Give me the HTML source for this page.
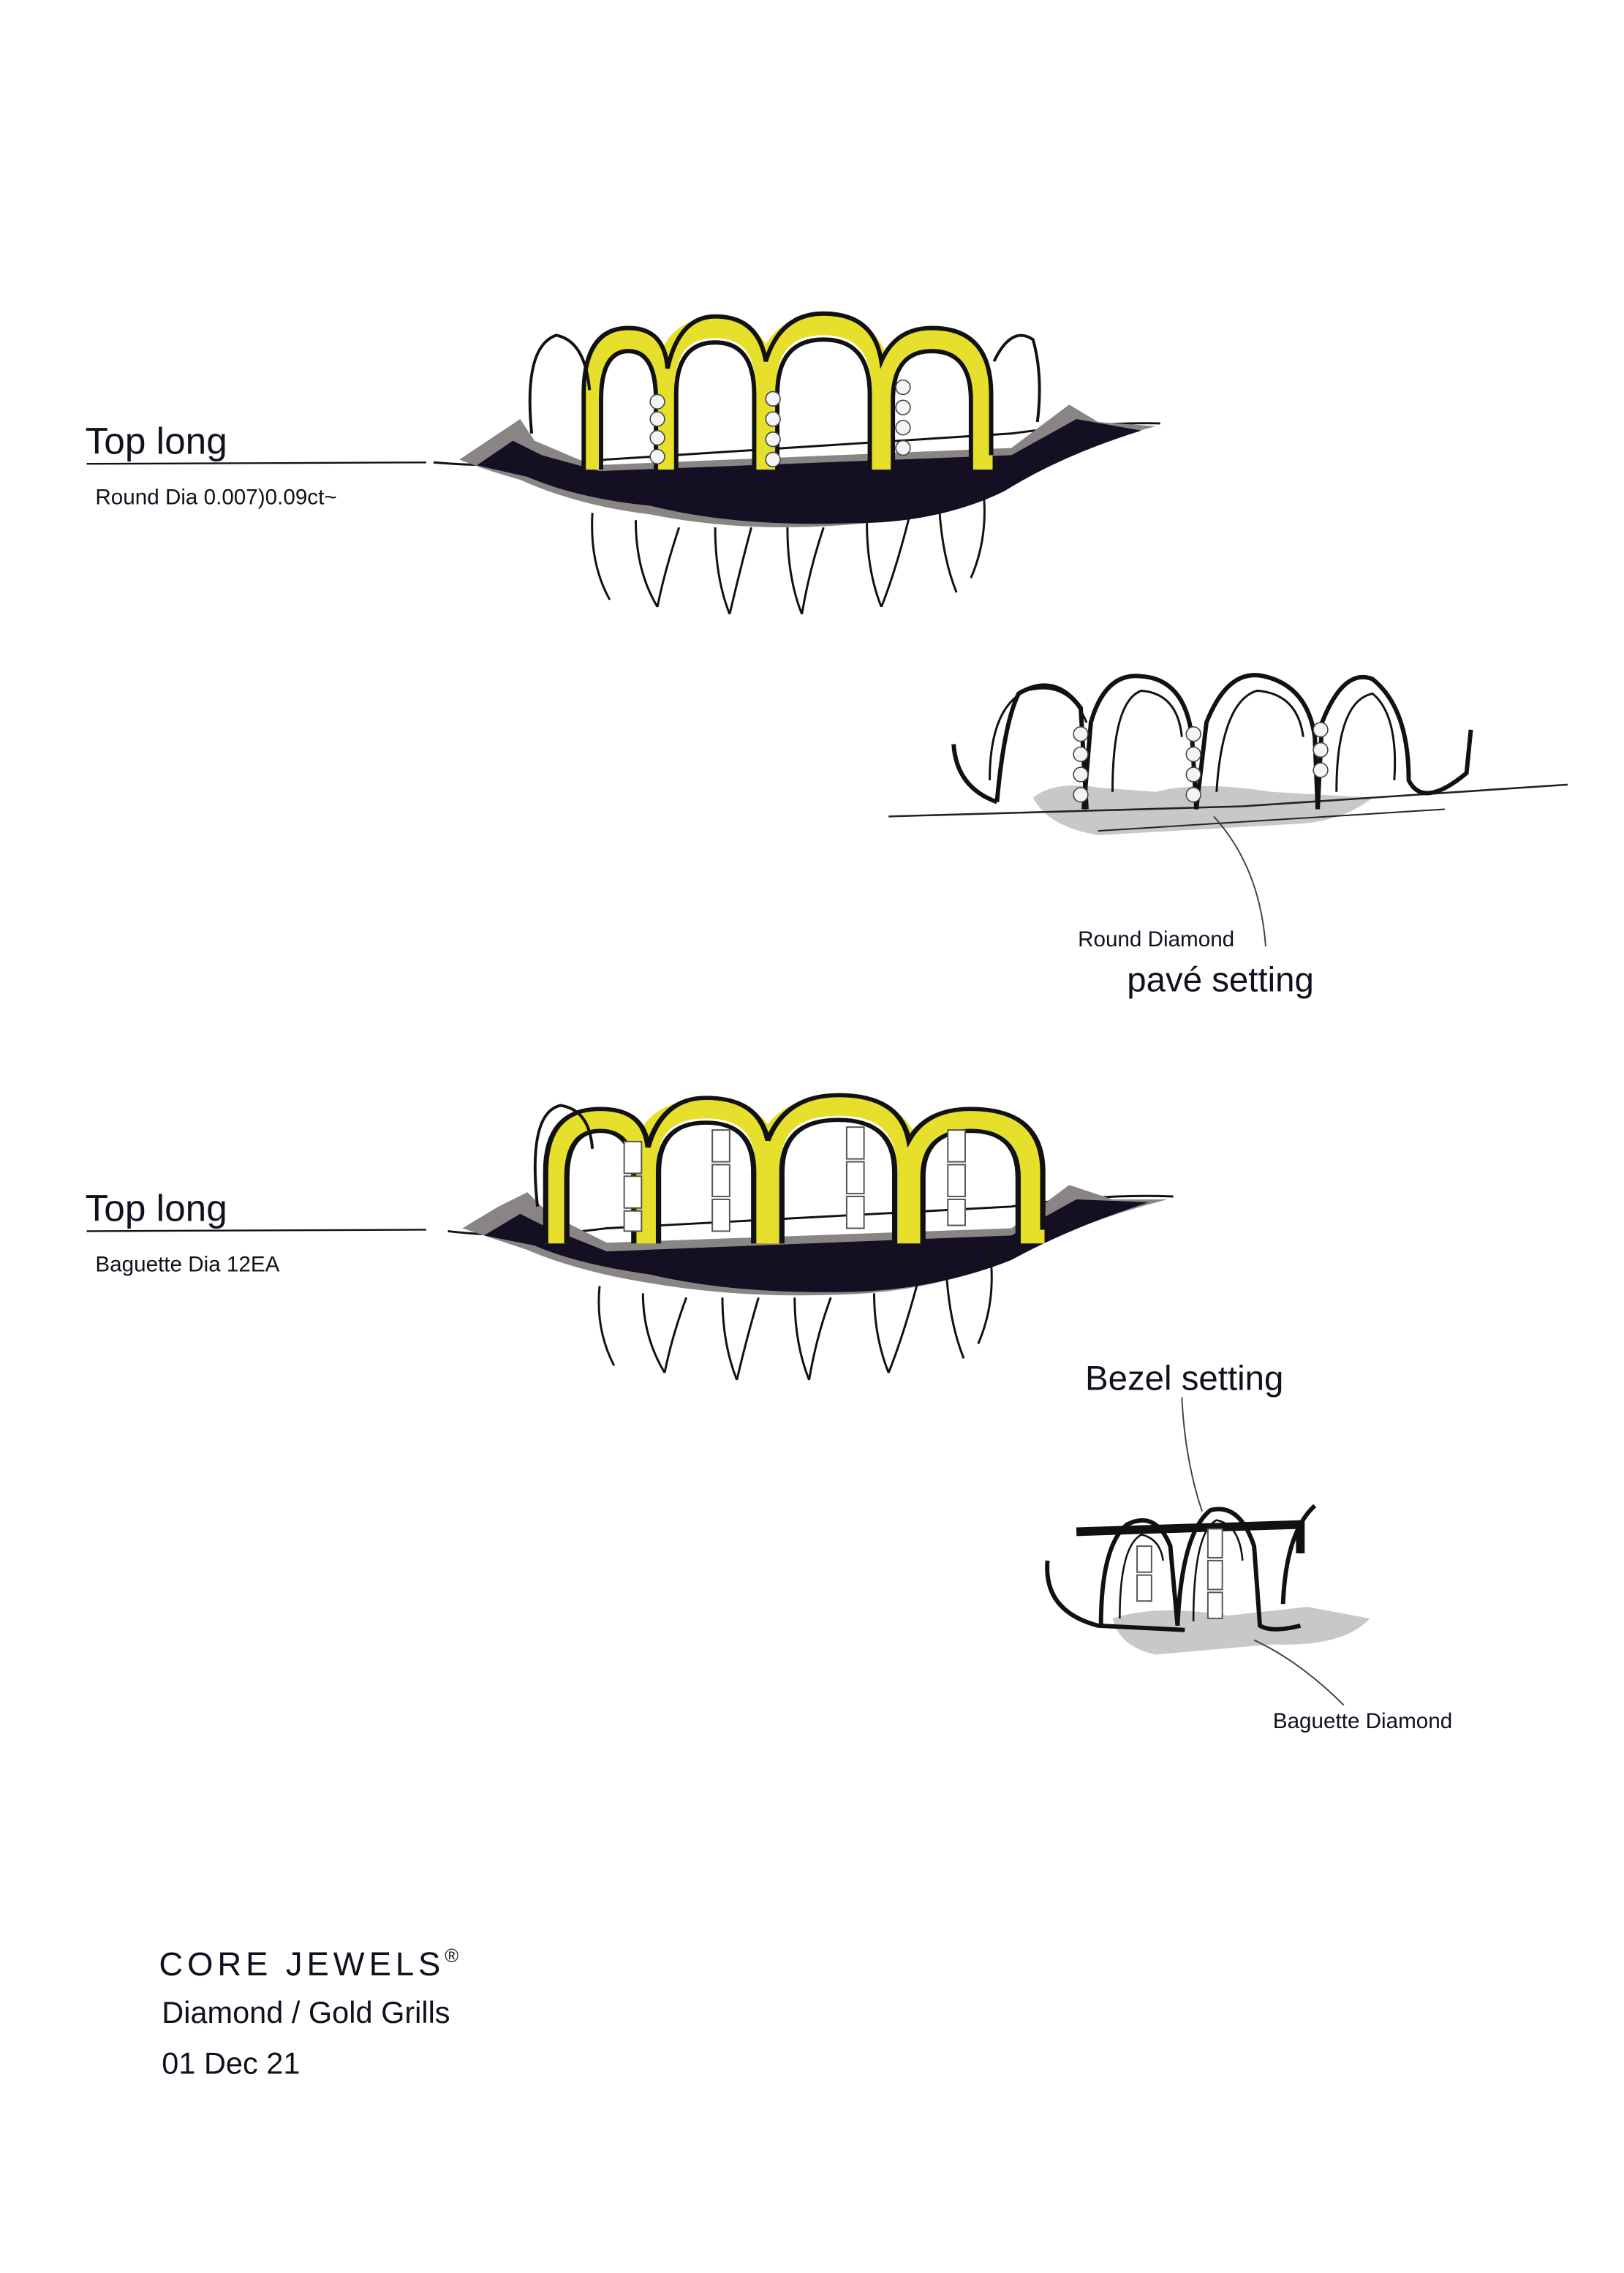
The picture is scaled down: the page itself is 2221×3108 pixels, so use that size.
<!DOCTYPE html>
<html><head><meta charset="utf-8"><style>
html,body{margin:0;padding:0;background:#fff;width:2221px;height:3108px;overflow:hidden}
svg{display:block}
text{font-family:"Liberation Sans",sans-serif;fill:#140f1e}
</style></head><body>
<svg width="2221" height="3108" viewBox="0 0 1124 1573" preserveAspectRatio="none">
<defs>
<g id="arch4">
 <path d="M0 90 L0 40 Q0 0 25 0 Q50 0 50 40 L50 90 M50 90 L50 35 Q50 -8 85 -8 Q120 -8 120 35 L120 90 M120 90 L120 35 Q120 -10 160 -10 Q200 -10 200 35 L200 90 M200 90 L200 40 Q200 0 235 0 Q270 0 270 40 L270 90" fill="none" stroke="#e6e02c" stroke-width="14" stroke-linejoin="round"/>
 <path d="M6 90 L6 42 Q6 8 25 8 Q44 8 44 42 L44 90 M58 90 L58 38 Q58 2 85 2 Q112 2 112 38 L112 90 M128 90 L128 38 Q128 0 160 0 Q192 0 192 38 L192 90 M208 90 L208 42 Q208 8 235 8 Q262 8 262 42 L262 90" fill="none" stroke="#111" stroke-width="3"/>
 <path d="M-6 90 L-6 38 Q-6 -8 25 -8 Q50 -8 52 20 Q60 -16 85 -16 Q115 -16 120 15 Q130 -18 160 -18 Q195 -18 200 15 Q210 -8 235 -8 Q276 -8 276 38 L276 80" fill="none" stroke="#111" stroke-width="3"/>
</g>
<g id="dia"><circle r="5" fill="#f4f4f4" stroke="#444" stroke-width="0.8"/></g>
</defs>

<path d="M300 320 Q360 325 420 318 L700 300 Q760 292 803 293" fill="none" stroke="#111" stroke-width="1.5"/>
<path d="M318 318 L345 300 L360 290 L370 305 L410 322 L700 310 L740 280 L760 292 L800 295 Q740 310 700 335 Q660 360 600 362 Q520 370 450 356 Q400 350 360 332 Q335 325 318 318Z" fill="#8a8585"/>
<path d="M330 322 L355 305 L375 315 L415 326 L700 315 L745 290 L790 298 Q735 315 695 340 Q650 362 590 362 Q510 365 450 350 Q400 345 365 330Z" fill="#140f22"/>
<g transform="translate(410,235)"><use href="#arch4"/></g>
<path d="M368 300 Q362 240 385 232 Q405 236 408 270" fill="none" stroke="#111" stroke-width="2"/>
<path d="M688 250 Q700 225 715 235 Q722 260 718 292" fill="none" stroke="#111" stroke-width="2"/>
<g fill="none" stroke="#111" stroke-width="1.5">
<path d="M410 355 Q408 390 422 415 M440 360 Q440 395 455 420 M455 420 Q460 395 470 365 M495 365 Q495 400 505 425 M505 425 Q512 395 520 365 M545 365 Q545 400 555 425 M555 425 Q560 395 570 365 M600 362 Q600 395 610 420 M610 420 Q620 395 630 355 M650 350 Q652 385 662 410 M680 335 Q685 370 672 400"/>
</g>
<g><use href="#dia" x="455" y="278"/><use href="#dia" x="455" y="290"/><use href="#dia" x="455" y="303"/><use href="#dia" x="455" y="316"/>
<use href="#dia" x="535" y="276"/><use href="#dia" x="535" y="290"/><use href="#dia" x="535" y="304"/><use href="#dia" x="535" y="318"/>
<use href="#dia" x="625" y="268"/><use href="#dia" x="625" y="282"/><use href="#dia" x="625" y="296"/><use href="#dia" x="625" y="310"/></g>

<text x="59" y="314" font-size="26">Top long</text>
<line x1="60" y1="321" x2="295" y2="320" stroke="#111" stroke-width="1.2"/>
<text x="66" y="349" font-size="15">Round Dia 0.007)0.09ct~</text>

<path d="M715 552 Q730 540 760 545 L800 548 Q830 540 880 548 L950 552 Q930 568 900 570 L760 578 Q725 572 715 552Z" fill="#c8c8c8"/>
<path d="M615 565 L860 558 L1085 543" fill="none" stroke="#222" stroke-width="1.3"/>
<path d="M760 575 L1000 560" fill="none" stroke="#222" stroke-width="1"/>
<g fill="none" stroke="#111" stroke-width="3">
<path d="M660 515 Q662 545 690 555 M690 555 Q695 500 705 480 Q730 465 748 490 L752 560"/>
<path d="M750 560 L755 500 Q765 465 790 468 Q820 470 825 510 L828 560"/>
<path d="M828 560 L835 500 Q850 462 875 468 Q905 475 910 510 L912 560"/>
<path d="M912 560 L915 500 Q930 462 950 470 Q975 490 975 540 Q985 560 1015 535 L1018 505"/>
</g>
<g fill="none" stroke="#111" stroke-width="1.5">
<path d="M685 540 Q685 490 710 478 Q740 470 752 500 M770 548 Q770 485 790 478 Q815 480 818 510 M842 548 Q846 485 870 478 Q898 480 902 510 M925 548 Q925 485 950 480 Q968 495 965 540"/>
</g>
<g><use href="#dia" x="748" y="508"/><use href="#dia" x="748" y="522"/><use href="#dia" x="748" y="536"/><use href="#dia" x="748" y="550"/>
<use href="#dia" x="826" y="508"/><use href="#dia" x="826" y="522"/><use href="#dia" x="826" y="536"/><use href="#dia" x="826" y="550"/>
<use href="#dia" x="914" y="505"/><use href="#dia" x="914" y="519"/><use href="#dia" x="914" y="533"/></g>
<path d="M840 565 Q872 600 876 655" fill="none" stroke="#444" stroke-width="1"/>
<text x="746" y="655" font-size="15">Round Diamond</text>
<text x="780" y="686" font-size="24">pavé setting</text>

<path d="M310 852 Q360 858 420 850 L700 835 Q760 826 812 828" fill="none" stroke="#111" stroke-width="1.5"/>
<path d="M320 850 L345 835 L365 825 L380 840 L420 860 L700 850 L740 820 L770 830 L808 830 Q750 845 705 868 Q660 890 600 895 Q520 900 450 888 Q400 880 365 865Z" fill="#8a8585"/>
<path d="M335 855 L360 840 L380 850 L420 866 L700 855 L745 830 L795 832 Q740 850 700 872 Q650 892 590 894 Q510 896 450 882 Q400 875 370 862Z" fill="#140f22"/>
<g transform="translate(385,775) scale(1.22,0.95)"><use href="#arch4"/></g>
<path d="M372 835 Q365 770 388 765 Q408 768 410 795" fill="none" stroke="#111" stroke-width="2"/>
<g fill="none" stroke="#111" stroke-width="1.5">
<path d="M415 890 Q412 920 425 945 M445 895 Q445 925 460 950 M460 950 Q465 925 475 898 M500 898 Q500 930 510 955 M510 955 Q517 925 525 898 M550 898 Q550 930 560 955 M560 955 Q565 925 575 898 M605 895 Q605 925 615 950 M615 950 Q625 925 635 888 M655 880 Q657 915 667 940 M685 865 Q690 900 677 930"/>
</g>
<g fill="#fff" stroke="#555" stroke-width="1">
<rect x="432" y="790" width="12" height="22"/><rect x="432" y="814" width="12" height="22"/><rect x="432" y="838" width="12" height="14"/>
<rect x="493" y="782" width="12" height="22"/><rect x="493" y="806" width="12" height="22"/><rect x="493" y="830" width="12" height="22"/>
<rect x="586" y="780" width="12" height="22"/><rect x="586" y="804" width="12" height="22"/><rect x="586" y="828" width="12" height="22"/>
<rect x="656" y="782" width="12" height="22"/><rect x="656" y="806" width="12" height="22"/><rect x="656" y="830" width="12" height="18"/>
</g>

<text x="59" y="845" font-size="26">Top long</text>
<line x1="60" y1="852" x2="295" y2="851" stroke="#111" stroke-width="1.2"/>
<text x="66" y="880" font-size="15">Baguette Dia 12EA</text>

<path d="M770 1120 Q800 1110 850 1118 L905 1112 L948 1120 Q930 1140 880 1138 L800 1145 Q775 1140 770 1120Z" fill="#c8c8c8"/>
<path d="M745 1060 L900 1055 L900 1075" fill="none" stroke="#111" stroke-width="6"/>
<g fill="none" stroke="#111" stroke-width="3">
<path d="M725 1080 Q722 1115 760 1125 L820 1128"/>
<path d="M762 1125 Q762 1070 780 1055 Q800 1045 810 1070 L815 1125"/>
<path d="M815 1125 Q818 1060 838 1045 Q858 1040 868 1070 L872 1125 Q880 1130 900 1125"/>
<path d="M888 1110 Q890 1060 910 1042"/>
</g>
<g fill="none" stroke="#111" stroke-width="1.3">
<path d="M775 1120 Q775 1070 790 1062 Q803 1065 805 1080 M826 1122 Q826 1060 842 1052 Q858 1055 860 1080"/>
</g>
<g fill="#fff" stroke="#555" stroke-width="1">
<rect x="787" y="1070" width="10" height="18"/><rect x="787" y="1090" width="10" height="18"/>
<rect x="836" y="1058" width="10" height="20"/><rect x="836" y="1080" width="10" height="20"/><rect x="836" y="1102" width="10" height="18"/>
</g>
<path d="M818 967 Q820 1010 832 1046" fill="none" stroke="#444" stroke-width="1"/>
<path d="M868 1135 Q900 1150 930 1180" fill="none" stroke="#444" stroke-width="1"/>
<text x="751" y="962" font-size="24">Bezel setting</text>
<text x="881" y="1196" font-size="15">Baguette Diamond</text>

<text x="110" y="1367" font-size="23" letter-spacing="3">CORE JEWELS<tspan font-size="13" dy="-9">®</tspan></text>
<text x="112" y="1400" font-size="21">Diamond / Gold Grills</text>
<text x="112" y="1435" font-size="21">01 Dec 21</text>
</svg>
</body></html>
